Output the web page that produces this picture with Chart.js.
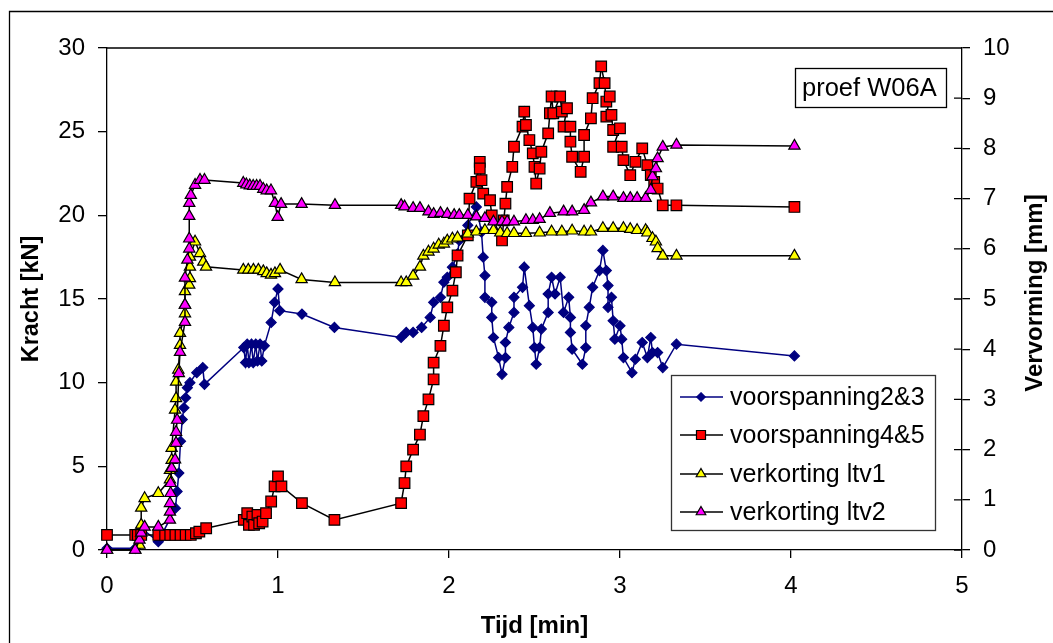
<!DOCTYPE html>
<html>
<head>
<meta charset="utf-8">
<script src="https://cdn.jsdelivr.net/npm/chart.js@4.4.1/dist/chart.umd.min.js"></script>
<style>
  html, body { margin: 0; padding: 0; background: #fff; }
</style>
</head>
<body>
<canvas id="chart" width="1053" height="643"></canvas>
<script>
const FONT = '"Liberation Sans", Arial, sans-serif';

// tijd [min] / kracht [kN] - voorspanning2&3
const tijdV23 = [0, 0.165, 0.2, 0.3, 0.4, 0.41, 0.42, 0.43, 0.44, 0.45, 0.46, 0.47, 0.485, 0.525, 0.56, 0.57,
  0.8, 0.81, 0.82, 0.83, 0.845, 0.855, 0.87, 0.88, 0.895, 0.905, 0.92, 0.96, 0.98, 1.0, 1.01, 1.14, 1.33,
  1.72, 1.75, 1.79, 1.84, 1.89, 1.91, 1.95, 1.97, 1.99, 2.02, 2.05, 2.06, 2.11, 2.16, 2.19, 2.2, 2.21, 2.21,
  2.25, 2.25, 2.26, 2.29, 2.31, 2.33, 2.33, 2.35, 2.38, 2.38, 2.43, 2.44, 2.47, 2.49, 2.5, 2.51, 2.53, 2.54,
  2.58, 2.58, 2.6, 2.62, 2.65, 2.67, 2.7, 2.71, 2.71, 2.72, 2.78, 2.8, 2.8, 2.82, 2.84, 2.88, 2.9, 2.92, 2.93,
  2.93, 2.95, 2.96, 2.97, 3.0, 3.01, 3.02, 3.07, 3.09, 3.13, 3.16, 3.18, 3.19, 3.22, 3.25, 3.33, 4.02];
const krachtV23 = [0.1, 0.1, 1.3, 0.5, 2.5, 3.5, 4.6, 6.5, 7.8, 8.5, 9.1, 9.7, 10.0, 10.6, 10.9, 9.9,
  12.1, 11.2, 12.3, 11.2, 12.3, 11.2, 12.3, 11.3, 12.3, 11.3, 12.2, 13.6, 14.8, 15.6, 14.3, 14.1, 13.3,
  12.7, 13.0, 13.0, 13.3, 13.9, 14.8, 15.1, 16.0, 16.3, 16.9, 17.7, 18.5, 19.4, 20.5, 19.0, 17.5, 16.4, 15.1,
  14.8, 13.9, 12.7, 11.5, 10.5, 11.5, 12.4, 13.3, 14.2, 15.1, 15.7, 16.9, 14.6, 13.3, 12.1, 11.1, 12.1, 13.2,
  14.2, 15.3, 16.3, 15.3, 16.3, 14.2, 15.1, 13.9, 13.0, 12.0, 11.1, 12.1, 13.4, 14.5, 15.7, 16.7, 17.9, 16.7, 15.8,
  14.5, 15.1, 13.7, 12.6, 13.4, 12.6, 11.5, 10.6, 11.4, 12.4, 11.5, 12.7, 11.8, 11.8, 10.9, 12.3, 11.6];

// tijd [min] / kracht [kN] - voorspanning4&5
const tijdV45 = [0, 0.165, 0.18, 0.2, 0.3, 0.34, 0.37, 0.4, 0.43, 0.46, 0.49, 0.52, 0.54, 0.58,
  0.8, 0.82, 0.83, 0.85, 0.86, 0.88, 0.89, 0.91, 0.93, 0.96, 0.98, 1.0, 1.02, 1.14, 1.33,
  1.72, 1.74, 1.75, 1.79, 1.83, 1.85, 1.88, 1.91, 1.91, 1.95, 1.97, 1.99, 2.02, 2.04, 2.05, 2.11, 2.12, 2.16,
  2.18, 2.18, 2.19, 2.2, 2.24, 2.25, 2.31, 2.32, 2.33, 2.34, 2.37, 2.38, 2.43, 2.44, 2.45, 2.47, 2.49, 2.5,
  2.51, 2.53, 2.54, 2.58, 2.59, 2.6, 2.61, 2.65, 2.66, 2.69, 2.67, 2.71, 2.71, 2.72, 2.77, 2.79, 2.79, 2.83,
  2.84, 2.88, 2.89, 2.91, 2.92, 2.94, 2.92, 2.95, 2.96, 3.0, 2.96, 3.01, 3.02, 3.06, 3.09, 3.13, 3.16, 3.18,
  3.2, 3.22, 3.25, 3.33, 4.02];
const krachtV45 = [0.9, 0.9, 0.9, 0.9, 0.9, 0.9, 0.9, 0.9, 0.9, 0.9, 0.9, 1.0, 1.1, 1.3,
  1.8, 2.2, 1.5, 2.0, 1.5, 2.1, 1.6, 1.7, 2.2, 2.9, 3.8, 4.4, 3.8, 2.8, 1.8,
  2.8, 4.0, 5.0, 6.0, 6.9, 8.0, 9.0, 10.2, 11.2, 12.2, 13.4, 14.5, 15.5, 16.6, 17.6, 18.8, 21.0, 22.0,
  23.2, 22.8, 22.1, 21.3, 20.9, 20.0, 18.5, 19.7, 20.7, 21.7, 22.9, 24.1, 25.3, 26.2, 25.4, 24.5, 23.7, 22.9,
  21.9, 22.8, 23.8, 24.9, 26.1, 27.1, 26.1, 27.1, 26.2, 26.4, 25.3, 25.3, 24.4, 23.5, 22.6, 23.5, 24.8, 25.8,
  27.0, 27.9, 28.9, 27.9, 26.8, 27.1, 25.9, 26.0, 25.1, 25.2, 24.1, 24.1, 23.3, 22.4, 23.2, 24.0, 23.0, 22.4,
  22.0, 21.6, 20.6, 20.6, 20.5];

// tijd [min] / vervorming [mm] - verkorting ltv1
const tijdLtv1 = [0, 0.165, 0.19, 0.2, 0.2, 0.22, 0.3, 0.368, 0.368, 0.378, 0.378, 0.398, 0.404, 0.404, 0.417,
  0.427, 0.427, 0.456, 0.456, 0.456, 0.481, 0.485, 0.485, 0.485, 0.515, 0.544, 0.563, 0.579,
  0.797, 0.826, 0.856, 0.885, 0.914, 0.934, 0.959, 0.982, 1.012, 1.138, 1.333,
  1.72, 1.75, 1.79, 1.83, 1.85, 1.88, 1.91, 1.94, 1.97, 1.99, 2.02, 2.05, 2.11, 2.16, 2.21, 2.26, 2.3, 2.34,
  2.38, 2.45, 2.53, 2.6, 2.66, 2.72, 2.79, 2.83, 2.9, 2.96, 3.02, 3.06, 3.1, 3.15, 3.16, 3.19, 3.21, 3.22,
  3.25, 3.33, 4.02];
const vervormingLtv1 = [0, 0, 0.1, 0.5, 0.84, 1.03, 1.13, 1.4, 1.59, 1.79, 2.03, 2.79, 3.02, 3.35, 3.59,
  4.08, 4.32, 4.71, 4.88, 5.15, 5.28, 5.41, 5.64, 5.84, 6.14, 5.91, 5.74, 5.64,
  5.58, 5.58, 5.58, 5.58, 5.55, 5.51, 5.48, 5.51, 5.58, 5.39, 5.33,
  5.33, 5.33, 5.46, 5.64, 5.86, 5.94, 6.0, 6.08, 6.1, 6.16, 6.2, 6.22, 6.3, 6.34, 6.37, 6.37, 6.32, 6.31,
  6.31, 6.31, 6.32, 6.34, 6.34, 6.36, 6.34, 6.34, 6.41, 6.41, 6.41, 6.39, 6.37, 6.37, 6.32, 6.21, 6.14, 6.01,
  5.86, 5.86, 5.86];

// tijd [min] / vervorming [mm] - verkorting ltv2
const tijdLtv2 = [0, 0.165, 0.19, 0.2, 0.22, 0.3, 0.368, 0.368, 0.368, 0.372, 0.372, 0.378, 0.398, 0.404, 0.404,
  0.41, 0.42, 0.427, 0.456, 0.456, 0.456, 0.47, 0.481, 0.481, 0.481, 0.481, 0.49, 0.515, 0.544, 0.57,
  0.797, 0.815, 0.835, 0.855, 0.875, 0.895, 0.914, 0.934, 0.959, 0.982, 0.998, 1.018, 1.138, 1.333,
  1.72, 1.74, 1.79, 1.83, 1.88, 1.91, 1.95, 1.99, 2.03, 2.06, 2.11, 2.16, 2.21, 2.26, 2.31, 2.34, 2.38,
  2.45, 2.49, 2.53, 2.59, 2.67, 2.72, 2.79, 2.83, 2.9, 2.96, 3.02, 3.06, 3.1, 3.15, 3.18, 3.19, 3.21, 3.22,
  3.25, 3.33, 4.02];
const vervormingLtv2 = [0, 0, 0.2, 0.34, 0.46, 0.46, 0.6, 0.76, 0.93, 1.13, 1.33, 1.63, 1.8, 2.13, 2.35,
  2.59, 3.52, 3.94, 4.54, 4.88, 5.42, 5.78, 6.0, 6.2, 6.65, 6.91, 7.07, 7.27, 7.37, 7.37,
  7.31, 7.28, 7.26, 7.25, 7.25, 7.25, 7.19, 7.16, 7.16, 6.91, 6.63, 6.89, 6.89, 6.87,
  6.87, 6.84, 6.81, 6.81, 6.74, 6.69, 6.71, 6.69, 6.67, 6.67, 6.67, 6.64, 6.61, 6.54, 6.54, 6.54, 6.54,
  6.57, 6.57, 6.59, 6.71, 6.74, 6.74, 6.77, 6.92, 7.04, 7.04, 7.01, 7.01, 7.01, 7.01, 7.17, 7.44, 7.6, 7.8,
  8.03, 8.07, 8.05];

const xTicks = [0, 1, 2, 3, 4, 5];
const krachtTicks = [0, 5, 10, 15, 20, 25, 30];
const vervormingTicks = [0, 1, 2, 3, 4, 5, 6, 7, 8, 9, 10];

const SERIES = [
  { label: 'voorspanning2&3', x: tijdV23, y: krachtV23, axis: 'yL', style: 'rectRot', r: 5, fill: '#000080', edge: '#000080', line: '#000080' },
  { label: 'voorspanning4&5', x: tijdV45, y: krachtV45, axis: 'yL', style: 'rect', r: 7.5, fill: '#ff0000', edge: '#000000', line: '#000000' },
  { label: 'verkorting ltv1', x: tijdLtv1, y: vervormingLtv1, axis: 'yR', style: 'triangle', r: 6.5, fill: '#ffff00', edge: '#000000', line: '#000000' },
  { label: 'verkorting ltv2', x: tijdLtv2, y: vervormingLtv2, axis: 'yR', style: 'triangle', r: 6.5, fill: '#ff00ff', edge: '#000000', line: '#000000' }
];

const datasets = SERIES.map((s, i) => ({
  label: s.label,
  data: s.x.map((t, k) => ({ x: t, y: s.y[k] })),
  yAxisID: s.axis,
  showLine: true,
  borderColor: s.line,
  borderWidth: 1.5,
  pointStyle: s.style,
  pointRadius: s.r,
  pointHoverRadius: s.r,
  pointBackgroundColor: s.fill,
  pointBorderColor: s.edge,
  pointBorderWidth: 1.2,
  order: SERIES.length - i,
  clip: false
}));

function drawMarker(ctx, s, x, y, r) {
  ctx.fillStyle = s.fill;
  ctx.strokeStyle = s.edge;
  ctx.lineWidth = 1.2;
  ctx.beginPath();
  if (s.style === 'rect') {
    const h = r * Math.SQRT1_2;
    ctx.rect(x - h, y - h, 2 * h, 2 * h);
  } else if (s.style === 'rectRot') {
    ctx.moveTo(x, y - r); ctx.lineTo(x + r, y); ctx.lineTo(x, y + r); ctx.lineTo(x - r, y);
    ctx.closePath();
  } else {
    const e = r * Math.sqrt(3);
    const h = e * Math.sqrt(3) / 2;
    ctx.moveTo(x, y - 2 * h / 3); ctx.lineTo(x + e / 2, y + h / 3); ctx.lineTo(x - e / 2, y + h / 3);
    ctx.closePath();
  }
  ctx.fill();
  ctx.stroke();
}

const decor = {
  id: 'decor',
  afterDraw(chart) {
    const { ctx, chartArea: a, scales } = chart;
    ctx.save();
    ctx.strokeStyle = '#000';
    ctx.lineWidth = 1.3;

    // outer frame
    ctx.beginPath();
    ctx.moveTo(9.5, 643); ctx.lineTo(9.5, 11.5); ctx.lineTo(1053, 11.5);
    ctx.stroke();

    // top edge of the plot area + inner half of the right axis ticks
    ctx.beginPath();
    ctx.moveTo(a.left, a.top); ctx.lineTo(a.right, a.top);
    scales.yR.ticks.forEach(t => {
      const py = scales.yR.getPixelForValue(t.value);
      ctx.moveTo(a.right - 8, py); ctx.lineTo(a.right, py);
    });
    ctx.stroke();

    // right axis title, reading bottom to top
    ctx.fillStyle = '#000';
    ctx.save();
    ctx.translate(1035, 293);
    ctx.rotate(-Math.PI / 2);
    ctx.font = 'bold 24px ' + FONT;
    ctx.textAlign = 'center';
    ctx.textBaseline = 'middle';
    ctx.fillText('Vervorming [mm]', 0, 0);
    ctx.restore();

    // proef label
    ctx.fillStyle = '#fff';
    ctx.fillRect(795.5, 68.5, 151, 39);
    ctx.strokeRect(795.5, 68.5, 151, 39);
    ctx.fillStyle = '#000';
    ctx.font = '25.5px ' + FONT;
    ctx.textAlign = 'left';
    ctx.textBaseline = 'middle';
    ctx.fillText('proef W06A', 802, 89);

    // legend
    ctx.fillStyle = '#fff';
    ctx.fillRect(671.5, 375.5, 264, 155);
    ctx.strokeStyle = '#333';
    ctx.strokeRect(671.5, 375.5, 264, 155);
    const rows = [397, 435, 474, 512];
    SERIES.forEach((s, i) => {
      const y = rows[i];
      ctx.strokeStyle = s.line;
      ctx.lineWidth = 1.5;
      ctx.beginPath(); ctx.moveTo(680, y); ctx.lineTo(723, y); ctx.stroke();
      drawMarker(ctx, s, 701, y, s.r * 0.85);
      ctx.fillStyle = '#000';
      ctx.font = '25px ' + FONT;
      ctx.fillText(s.label, 730, y + 1);
    });
    ctx.restore();
  }
};

new Chart(document.getElementById('chart'), {
  type: 'scatter',
  data: { datasets },
  plugins: [decor],
  options: {
    responsive: false,
    animation: false,
    devicePixelRatio: 1,
    layout: { padding: { top: 48, left: 0, right: 0, bottom: 0 } },
    plugins: { legend: { display: false }, tooltip: { enabled: false } },
    scales: {
      x: {
        type: 'linear', min: 0, max: 5,
        afterFit: s => { s.height = 93; },
        afterBuildTicks: s => { s.ticks = xTicks.map(v => ({ value: v })); },
        grid: { display: true, drawOnChartArea: false, drawTicks: true, tickLength: 8, color: '#000', lineWidth: 1.3 },
        border: { display: true, color: '#000', width: 1.3 },
        ticks: { color: '#000', font: { family: FONT, size: 24 }, padding: 14, maxRotation: 0 },
        title: { display: true, text: 'Tijd [min]', color: '#000', font: { family: FONT, size: 24, weight: 'bold' }, padding: { top: 0, bottom: 2 } }
      },
      yL: {
        type: 'linear', position: 'left', min: 0, max: 30,
        afterFit: s => { s.width = 107; },
        afterBuildTicks: s => { s.ticks = krachtTicks.map(v => ({ value: v })); },
        grid: { display: true, drawOnChartArea: false, drawTicks: true, tickLength: 9, color: '#000', lineWidth: 1.3 },
        border: { display: true, color: '#000', width: 1.3 },
        ticks: { color: '#000', font: { family: FONT, size: 24 }, padding: 13 },
        title: { display: true, text: 'Kracht [kN]', color: '#000', font: { family: FONT, size: 23.5, weight: 'bold' }, padding: { top: 17, bottom: 0 } }
      },
      yR: {
        type: 'linear', position: 'right', min: 0, max: 10,
        afterFit: s => { s.width = 91; },
        afterBuildTicks: s => { s.ticks = vervormingTicks.map(v => ({ value: v })); },
        grid: { display: true, drawOnChartArea: false, drawTicks: true, tickLength: 8, color: '#000', lineWidth: 1.3 },
        border: { display: true, color: '#000', width: 1.3 },
        ticks: { color: '#000', font: { family: FONT, size: 24 }, padding: 13 }
      }
    }
  }
});
</script>
</body>
</html>
